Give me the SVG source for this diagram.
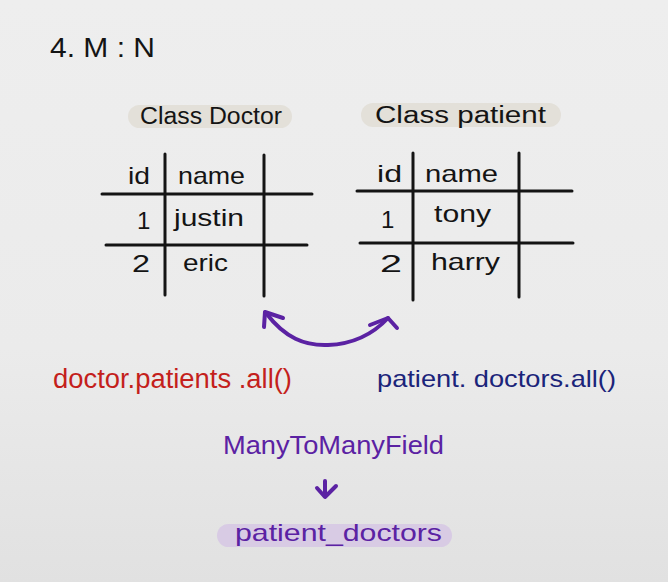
<svg xmlns="http://www.w3.org/2000/svg" width="668" height="582" viewBox="0 0 668 582">
  <defs>
    <linearGradient id="bg" x1="0" y1="0" x2="0" y2="1">
      <stop offset="0" stop-color="#eeeeee"/>
      <stop offset="0.6" stop-color="#ebebeb"/>
      <stop offset="1" stop-color="#e1e1e1"/>
    </linearGradient>
  </defs>
  <style>
    text { font-family: "Liberation Sans", "DejaVu Sans", sans-serif; }
    .ink { fill: #141414; }
    .grid { stroke: #141414; stroke-width: 3; stroke-linecap: round; fill: none; }
    .cell { font-size: 24px; }
    .title { font-size: 23px; }
    .pill { fill: #e3e0d9; }
    .purple { fill: #5b22a3; }
    .conn { stroke: #5b22a3; stroke-width: 4; stroke-linecap: round; stroke-linejoin: round; fill: none; }
  </style>
  <rect width="668" height="582" fill="url(#bg)"/>

  <g id="heading">
    <text class="ink" x="50" y="57" font-size="28" textLength="105" lengthAdjust="spacingAndGlyphs">4. M : N</text>
  </g>

  <g id="doctor-table">
    <rect class="pill" x="128" y="105" width="164" height="23" rx="11.5"/>
    <text class="ink title" x="140" y="124" textLength="142" lengthAdjust="spacingAndGlyphs">Class Doctor</text>
    <line class="grid" x1="165" y1="154" x2="165" y2="295"/>
    <line class="grid" x1="264" y1="155" x2="264" y2="296"/>
    <line class="grid" x1="102" y1="194" x2="312" y2="194"/>
    <line class="grid" x1="106" y1="245" x2="307" y2="245"/>
    <text class="ink cell" x="128" y="184" textLength="22" lengthAdjust="spacingAndGlyphs">id</text>
    <text class="ink cell" x="178" y="184" textLength="67" lengthAdjust="spacingAndGlyphs">name</text>
    <text class="ink cell" x="137" y="229">1</text>
    <text class="ink cell" x="174" y="226" textLength="70" lengthAdjust="spacingAndGlyphs">justin</text>
    <text class="ink cell" x="132" y="272" textLength="18" lengthAdjust="spacingAndGlyphs">2</text>
    <text class="ink cell" x="183" y="271" textLength="45" lengthAdjust="spacingAndGlyphs">eric</text>
  </g>

  <g id="patient-table">
    <rect class="pill" x="361" y="103" width="200" height="24" rx="12"/>
    <text class="ink title" x="375" y="123" textLength="171" lengthAdjust="spacingAndGlyphs">Class patient</text>
    <line class="grid" x1="413" y1="153" x2="413" y2="300"/>
    <line class="grid" x1="519" y1="153" x2="519" y2="297"/>
    <line class="grid" x1="357" y1="191" x2="572" y2="191"/>
    <line class="grid" x1="360" y1="243" x2="573" y2="243"/>
    <text class="ink cell" x="377" y="182" textLength="25" lengthAdjust="spacingAndGlyphs">id</text>
    <text class="ink cell" x="425" y="182" textLength="73" lengthAdjust="spacingAndGlyphs">name</text>
    <text class="ink cell" x="381" y="228">1</text>
    <text class="ink cell" x="434" y="222" textLength="57" lengthAdjust="spacingAndGlyphs">tony</text>
    <text class="ink cell" x="380" y="272" textLength="22" lengthAdjust="spacingAndGlyphs">2</text>
    <text class="ink cell" x="431" y="270" textLength="69" lengthAdjust="spacingAndGlyphs">harry</text>
  </g>

  <g id="doctor-query">
    <text x="53" y="388" font-size="27" fill="#c41f1c" textLength="239" lengthAdjust="spacingAndGlyphs">doctor.patients .all()</text>
  </g>

  <g id="patient-query">
    <text x="377" y="387" font-size="24" fill="#1b247a" textLength="239" lengthAdjust="spacingAndGlyphs">patient. doctors.all()</text>
  </g>

  <g id="m2m-field">
    <text class="purple" x="223" y="454" font-size="26" textLength="221" lengthAdjust="spacingAndGlyphs">ManyToManyField</text>
  </g>

  <g id="join-table">
    <rect x="217" y="524" width="235" height="23" rx="11.5" fill="#d8cbe4"/>
    <text class="purple" x="235" y="541" font-size="24" textLength="207" lengthAdjust="spacingAndGlyphs">patient_doctors</text>
  </g>

  <g id="connectors">
    <path class="conn" d="M266 313 C285 338 305 346 328 345 C355 344 375 332 388 318"/>
    <polyline class="conn" points="283,318 265,312 264,327"/>
    <polyline class="conn" points="370,325 388,318 397,328"/>
    <line class="conn" x1="325" y1="481" x2="325" y2="496"/>
    <polyline class="conn" points="317,488 325,497 336,486"/>
  </g>
</svg>
